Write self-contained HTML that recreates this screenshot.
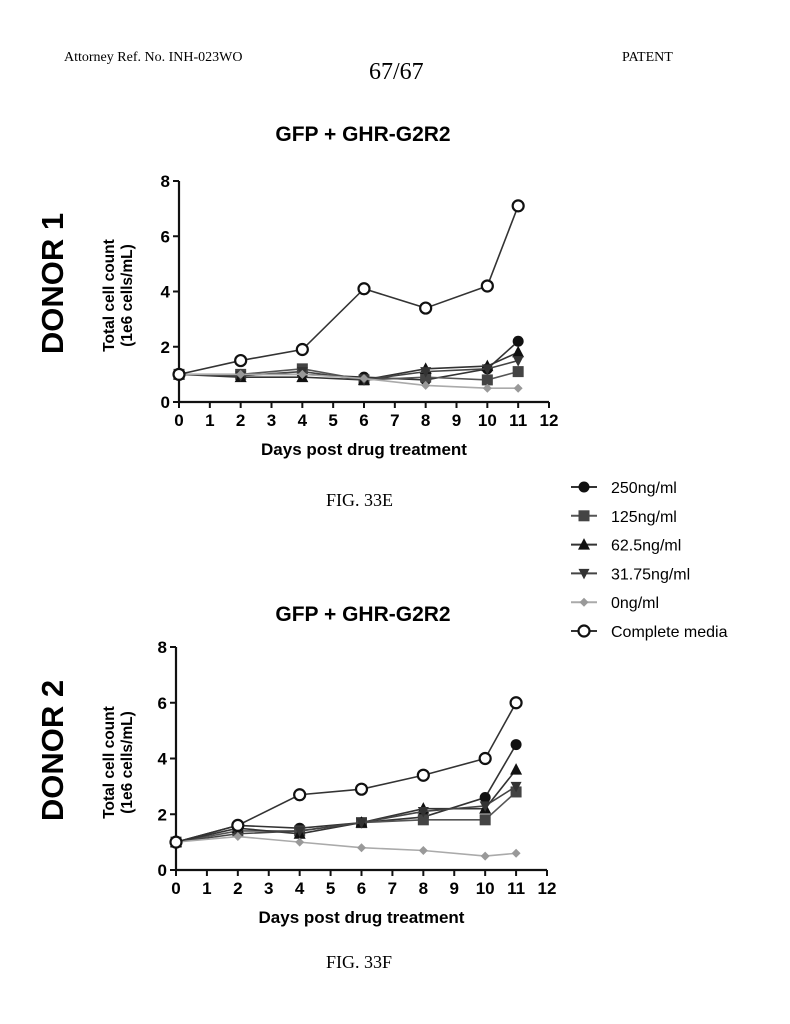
<!DOCTYPE html>
<html><head><meta charset="utf-8"><style>
html,body{margin:0;padding:0;background:#fff;}
svg{display:block;}
</style></head><body>
<svg id="s" width="790" height="1024" viewBox="0 0 790 1024" xmlns="http://www.w3.org/2000/svg" font-family="Liberation Sans, sans-serif">
<text x="64" y="61" font-family="Liberation Serif, serif" font-size="14">Attorney Ref. No. INH-023WO</text>
<text x="369" y="79" font-family="Liberation Serif, serif" font-size="24">67/67</text>
<text x="622" y="61" font-family="Liberation Serif, serif" font-size="14">PATENT</text>
<text x="326" y="506" font-family="Liberation Serif, serif" font-size="18">FIG. 33E</text>
<text x="326" y="968" font-family="Liberation Serif, serif" font-size="18">FIG. 33F</text>
<g id="legend"></g>
<g id="c1"></g>
<g id="c2"></g>
</svg>
<script>
const days = [0,2,4,6,8,10,11];
const seriesNames = ["250ng/ml","125ng/ml","62.5ng/ml","31.75ng/ml","0ng/ml","Complete media"];
const xTicks = [0,1,2,3,4,5,6,7,8,9,10,11,12];
const yTicks = [0,2,4,6,8];
const d1_250 = [1,1,1,0.9,0.8,1.2,2.2];
const d1_125 = [1,1,1.2,0.8,0.9,0.8,1.1];
const d1_625 = [1,0.9,0.9,0.8,1.2,1.3,1.8];
const d1_3175 = [1,0.95,1.1,0.8,1.1,1.2,1.5];
const d1_0 = [1,1,1,0.85,0.6,0.5,0.5];
const d1_cm = [1,1.5,1.9,4.1,3.4,4.2,7.1];
const d2_250 = [1,1.6,1.5,1.7,1.9,2.6,4.5];
const d2_125 = [1,1.4,1.4,1.7,1.8,1.8,2.8];
const d2_625 = [1,1.5,1.3,1.7,2.2,2.2,3.6];
const d2_3175 = [1,1.3,1.4,1.7,2.1,2.3,3.0];
const d2_0 = [1,1.2,1.0,0.8,0.7,0.5,0.6];
const d2_cm = [1,1.6,2.7,2.9,3.4,4.0,6.0];

const NS="http://www.w3.org/2000/svg";
function mk(p,tag,attrs,txt){const e=document.createElementNS(NS,tag);for(const k in attrs)e.setAttribute(k,attrs[k]);if(txt!==undefined)e.textContent=txt;p.appendChild(e);return e;}
const styles=[{m:"circle",c:"#111",l:"#333"},{m:"square",c:"#444",l:"#555"},{m:"tri",c:"#111",l:"#333"},{m:"itri",c:"#333",l:"#444"},{m:"diamond",c:"#999",l:"#aaa"},{m:"open",c:"#111",l:"#333"}];
function marker(g,type,x,y,col){
  let e;
  if(type==="circle")e=mk(g,"circle",{cx:x,cy:y,r:5.5,fill:col});
  else if(type==="square")e=mk(g,"rect",{x:x-5.5,y:y-5.5,width:11,height:11,fill:col});
  else if(type==="tri")e=mk(g,"polygon",{points:`${x},${y-6.5} ${x-6},${y+5} ${x+6},${y+5}`,fill:col});
  else if(type==="itri")e=mk(g,"polygon",{points:`${x},${y+6} ${x-5.5},${y-4.5} ${x+5.5},${y-4.5}`,fill:col});
  else if(type==="diamond")e=mk(g,"polygon",{points:`${x},${y-4.5} ${x+4.5},${y} ${x},${y+4.5} ${x-4.5},${y}`,fill:col});
  else e=mk(g,"circle",{cx:x,cy:y,r:5.5,fill:"#fff",stroke:col,"stroke-width":2.2});
  return e;
}
function chart(gid,x0,x1,y0,y1,data,donor,titleY){
  const g=document.getElementById(gid);
  const X=v=>x0+(x1-x0)*v/12, Y=v=>y0-(y0-y1)*v/8;
  const t=mk(g,"text",{x:363,y:titleY,"font-size":21,"font-weight":"bold","text-anchor":"middle"},"GFP + GHR-G2R2");
  
  
  const dl=mk(g,"text",{transform:`translate(63,${(y0+y1)/2-8}) rotate(-90)`,"font-size":31,"font-weight":"bold","text-anchor":"middle"},donor);
  
  
  const yt=mk(g,"text",{transform:`translate(114,${(y0+y1)/2+4}) rotate(-90)`,"font-size":15.5,"font-weight":"bold","text-anchor":"middle"});
  
  
  mk(yt,"tspan",{x:0,dy:0},"Total cell count");
  mk(yt,"tspan",{x:0,dy:18},"(1e6 cells/mL)");
  const ax=mk(g,"path",{d:`M${x0},${y1} V${y0} H${x1}`,stroke:"#111","stroke-width":2.2,fill:"none"});
  
  
  yTicks.forEach(v=>{mk(g,"line",{x1:x0-6,x2:x0,y1:Y(v),y2:Y(v),stroke:"#111","stroke-width":2});
    const l=mk(g,"text",{x:x0-9,y:Y(v)+6,"font-size":17,"font-weight":"bold","text-anchor":"end"},v);
    
    });
  xTicks.forEach(v=>{mk(g,"line",{x1:X(v),x2:X(v),y1:y0,y2:y0+6,stroke:"#111","stroke-width":2});
    const l=mk(g,"text",{x:X(v),y:y0+24,"font-size":17,"font-weight":"bold","text-anchor":"middle"},v);
    
    });
  const xtl=mk(g,"text",{x:(x0+x1)/2,y:y0+53,"font-size":17,"font-weight":"bold","text-anchor":"middle"},"Days post drug treatment");
  
  
  data.forEach((vals,i)=>{
    const s=styles[i];
    const sg=mk(g,"g",{});
    
    
    mk(sg,"polyline",{points:vals.map((v,k)=>X(days[k])+","+Y(v)).join(" "),fill:"none",stroke:s.l,"stroke-width":1.6});
    vals.forEach((v,k)=>{const m=marker(sg,s.m,X(days[k]),Y(v),s.c);
      
      });
  });
}
chart("c1",179,549,402,181,[d1_250,d1_125,d1_625,d1_3175,d1_0,d1_cm],"DONOR 1",141);
chart("c2",176,547,870,647,[d2_250,d2_125,d2_625,d2_3175,d2_0,d2_cm],"DONOR 2",621);
const lg=document.getElementById("legend");
seriesNames.forEach((n,i)=>{
  const y=487+i*28.8, s=styles[i];
  const e=mk(lg,"g",{});
  
  
  mk(e,"line",{x1:571,x2:597,y1:y,y2:y,stroke:s.l,"stroke-width":2});
  marker(e,s.m,584,y,s.c);
  mk(e,"text",{x:611,y:y+6,"font-size":16},n);
});
</script>
</body></html>
